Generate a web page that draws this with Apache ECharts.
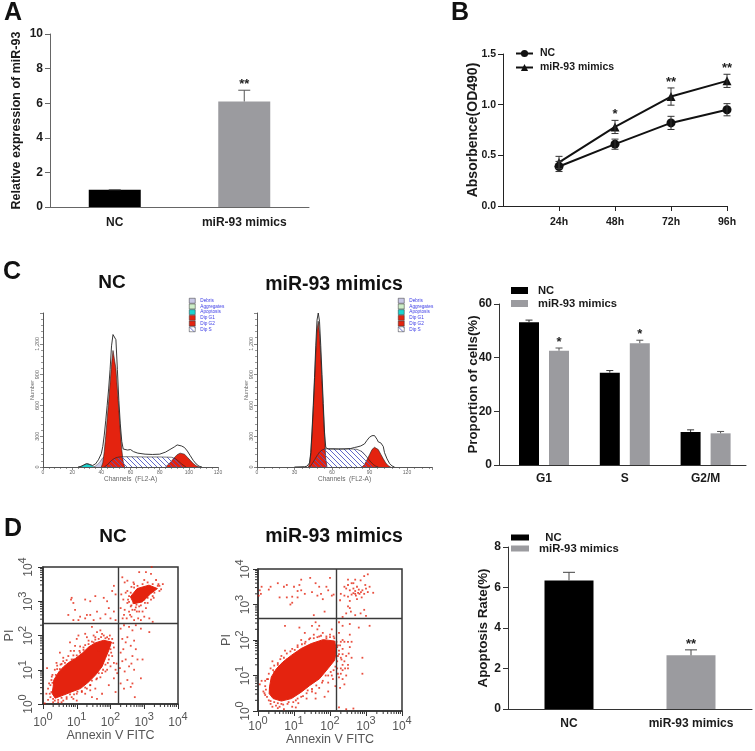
<!DOCTYPE html>
<html><head><meta charset="utf-8">
<style>html,body{margin:0;padding:0;background:#fff}#c{width:755px;height:751px}</style>
<script src="https://cdn.jsdelivr.net/npm/echarts@6/dist/echarts.min.js"></script>
</head><body><div id="c"></div>
<script>
// ---------- Panel A
const aCategories = ['NC', 'miR-93 mimics'];
const aValues = [1, 6.1];
const aErrTop = [1, 6.75];
const aSig = ['', '**'];
// ---------- Panel B
const bHours = [24, 48, 72, 96];
const bNC = [0.39, 0.61, 0.82, 0.95];
const bNCErr = [0.05, 0.05, 0.065, 0.06];
const bMimics = [0.43, 0.78, 1.08, 1.235];
const bMimicsErr = [0.06, 0.065, 0.085, 0.065];
const bSig = ['', '*', '**', '**'];
// ---------- Panel C histograms: [channel, count]
const legendNames = ['Debris', 'Aggregates', 'Apoptosis', 'Dip G1', 'Dip G2', 'Dip S'];
const ncTotal = [[24,0],[26,6],[28,20],[30,33],[32,25],[34,15],[36,30],[38,70],[40,130],[41,200],[42,310],[43,450],[44,600],[45,760],[46,950],[47,1180],[48,1290],[49,1304],[50,1240],[51,950],[52,650],[53,420],[54,250],[55,175],[56,160],[58,165],[60,170],[62,150],[65,135],[70,125],[75,122],[80,125],[84,145],[87,170],[90,195],[92,215],[93,222],[95,205],[97,190],[99,155],[101,110],[103,65],[105,30],[107,8],[109,0]];
const ncG1 = [[40,0],[41,40],[42,150],[43,300],[44,470],[45,640],[46,820],[47,1000],[48,1135],[49,1135],[50,960],[51,760],[52,560],[53,350],[54,170],[55,50],[56,0]];
const ncG2 = [[84,0],[86,25],[88,55],[90,90],[92,120],[94,135],[95,137],[97,125],[99,95],[101,65],[103,35],[105,12],[107,0]];
const ncS = [[42,0],[44,20],[46,50],[48,75],[50,90],[52,97],[55,100],[60,100],[70,98],[80,98],[88,95],[91,80],[93,55],[95,30],[97,10],[98,0]];
const ncDebris = [[35,0],[37,20],[39,50],[41,90],[43,100],[45,70],[47,30],[49,0]];
const ncApoptosis = [[25,0],[27,10],[29,28],[30,33],[31,30],[33,15],[35,3],[36,0]];
const mTotal = [[30,0],[38,3],[40,8],[42,40],[43,140],[44,350],[45,600],[46,870],[47,1180],[48,1430],[49,1500],[50,1420],[51,1180],[52,900],[53,620],[54,340],[55,190],[57,175],[60,176],[65,175],[70,176],[75,180],[78,190],[80,195],[83,205],[86,225],[88,260],[90,290],[92,305],[94,306],[96,270],[97,245],[99,235],[101,200],[102,140],[104,80],[106,35],[108,10],[110,0]];
const mG1 = [[41,0],[42,30],[43,120],[44,320],[45,560],[46,820],[47,1100],[48,1330],[49,1420],[50,1300],[51,1080],[52,820],[53,560],[54,300],[55,80],[56,0]];
const mG2 = [[84,0],[86,25],[88,70],[90,120],[92,170],[94,192],[95,196],[97,170],[99,125],[101,80],[103,40],[105,12],[107,0]];
const mS = [[42,0],[44,30],[46,70],[48,110],[50,145],[52,165],[54,175],[57,178],[65,176],[75,176],[80,172],[84,150],[87,110],[89,80],[91,50],[93,25],[95,8],[97,0]];
// ---------- Panel C bars
const cCategories = ['G1', 'S', 'G2/M'];
const cNC = [53.2, 34.4, 12.3];
const cNCTop = [54, 35.2, 13.1];
const cMimics = [42.6, 45.4, 11.8];
const cMimicsTop = [43.6, 46.5, 12.5];
const cMimicsSig = ['*', '*', ''];
// ---------- Panel D flow cytometry (log10 units)
const dNCMass = [[0.30,0.50],[0.32,0.70],[0.47,0.94],[0.61,1.09],[0.76,1.21],[0.96,1.33],[1.16,1.48],[1.36,1.67],[1.56,1.79],[1.80,1.86],[2.03,1.81],[1.95,1.57],[1.85,1.33],[1.75,1.09],[1.55,0.84],[1.36,0.65],[1.11,0.45],[0.86,0.36],[0.61,0.26],[0.36,0.17],[0.27,0.31]];
const dNCCluster = [[2.59,3.13],[2.79,3.37],[3.14,3.47],[3.39,3.37],[3.19,3.22],[2.94,2.98],[2.69,2.93]];
const dNCPoints = [[2.35,3.7],[2.42,3.55],[2.5,3.6],[2.62,3.42],[2.7,3.5],[2.85,3.85],[3.05,3.85],[3.2,3.8],[3.22,4.0],[3.35,3.62],[3.42,3.5],[3.45,3.45],[3.55,3.5],[3.5,3.35],[2.32,3.2],[2.38,3.05],[2.45,3.25],[2.5,2.95],[2.55,3.15],[2.6,2.85],[2.72,2.75],[2.78,2.7],[2.85,2.85],[2.95,2.7],[3.05,2.8],[3.1,2.95],[3.2,3.05],[3.28,3.1],[2.4,2.6],[2.48,2.5],[2.55,2.7],[2.62,2.55],[2.7,2.45],[2.82,2.5],[2.9,2.45],[3.0,2.55],[3.15,2.5],[3.25,2.4],[2.3,2.8],[2.36,2.5],[2.42,2.75],[2.68,2.95],[2.88,3.1],[3.0,3.05],[2.58,2.6],[2.77,2.9],
[0.83,3.05],[0.85,3.1],[0.9,2.95],[1.25,3.05],[1.4,3.0],[1.55,3.15],[1.8,3.1],[1.9,3.0],[2.05,3.3],[2.1,3.45],[2.15,3.2],[1.95,2.8],[2.1,2.7],[1.6,2.7],[1.4,2.6],[0.95,2.75],[1.1,2.55],[1.25,2.5],[1.3,2.6],[0.75,2.6],[0.9,2.45],[1.5,2.45],[1.7,2.5],[2.0,2.5],[2.15,2.45],[1.85,2.62],[1.05,2.45],
[2.3,2.2],[2.4,2.3],[2.55,2.25],[2.65,2.15],[2.75,2.3],[2.9,2.2],[3.15,2.1],[2.35,1.9],[2.45,1.8],[2.5,1.95],[2.6,1.7],[2.7,1.85],[2.75,1.6],[2.8,1.3],[2.65,1.4],[2.55,1.1],[2.45,1.3],[2.35,1.25],[2.3,1.5],[2.42,0.95],[2.5,0.7],[2.6,0.5],[2.65,0.6],[2.7,1.0],[2.9,0.75],[2.95,1.3],[2.3,0.6],[2.4,0.45],[2.72,0.2],[2.28,1.05],[2.38,1.6],[2.62,1.18],
[0.15,0.45],[0.2,0.3],[0.25,0.7],[0.3,0.15],[0.18,0.6],[0.28,0.85],[0.12,1.05],[0.35,1.0],[0.52,1.15],[0.5,1.5],[0.6,1.25],[0.75,1.4],[0.8,1.8],[0.95,1.7],[1.0,1.9],[1.05,2.0],[0.92,1.55],[1.2,1.65],[1.25,2.05],[1.35,1.85],[1.5,1.8],[1.55,1.95],[1.6,2.1],[1.75,2.05],[1.9,1.95],[1.98,2.0],[2.05,1.9],[1.45,2.25],[1.7,2.15],[1.85,1.8],[2.0,1.6],[2.05,1.4],[2.1,1.2],[2.15,1.0],[2.18,1.18],[2.0,1.1],[1.85,0.95],[1.75,0.9],[1.6,0.75],[1.4,0.55],[1.55,0.45],[1.3,0.45],[1.15,0.35],[1.0,0.3],[0.85,0.2],[0.6,0.1],[0.45,0.05],[0.3,0.05],[0.7,0.15],[1.0,0.1],[1.45,0.2],[1.75,0.3],[1.95,0.55],[2.1,0.75],[2.15,0.35],[1.6,0.15],[0.05,0.02],[0.4,1.2],[0.65,1.05],[0.9,1.3],[1.95,1.3],[2.2,0.9],[1.65,1.55],[1.1,1.5]];
const dNCFringe = [[0.22,0.55],[0.25,0.35],[0.28,0.62],[0.26,0.8],[0.38,0.85],[0.42,1.02],[0.5,1.02],[0.55,1.17],[0.65,1.2],[0.7,1.28],[0.85,1.3],[0.9,1.42],[1.0,1.42],[1.08,1.55],[1.2,1.58],[1.25,1.72],[1.35,1.75],[1.45,1.82],[1.55,1.88],[1.65,1.9],[1.72,1.95],[1.85,1.92],[1.95,1.9],[2.08,1.78],[2.1,1.65],[2.02,1.5],[1.95,1.42],[1.92,1.2],[1.85,1.15],[1.78,1.0],[1.65,0.9],[1.58,0.72],[1.45,0.68],[1.4,0.55],[1.25,0.48],[1.15,0.38],[1.02,0.36],[0.92,0.28],[0.8,0.28],[0.7,0.2],[0.55,0.18],[0.45,0.12],[0.35,0.1],[0.22,0.2],[0.15,0.12],[0.1,0.3],[0.55,0.05],[0.9,0.15],[1.25,0.3],[1.4,0.4],[1.7,0.78],[1.9,1.0],[0.42,1.12],[0.6,1.35],[0.82,1.55],[1.1,1.68],[1.3,1.95],[1.5,2.0],[1.8,2.0],
[2.52,3.05],[2.6,3.25],[2.7,3.4],[2.8,3.45],[2.95,3.5],[3.1,3.55],[3.25,3.5],[3.4,3.45],[3.45,3.3],[3.3,3.25],[3.25,3.15],[3.1,3.1],[3.02,2.95],[2.9,2.88],[2.75,2.82],[2.62,2.88],[2.55,2.98],[2.65,2.75],[2.85,2.7],[2.5,3.3],[2.68,3.55],[3.0,3.62]];
const dMMass = [[0.32,0.68],[0.37,0.96],[0.51,1.19],[0.69,1.38],[0.93,1.57],[1.20,1.76],[1.48,1.90],[1.81,2.01],[2.13,1.97],[2.18,1.71],[2.13,1.43],[1.94,1.19],[1.71,0.91],[1.44,0.72],[1.20,0.53],[0.93,0.35],[0.65,0.28],[0.42,0.35],[0.31,0.49]];
const dMPoints = [[2.4,3.5],[2.45,3.45],[2.5,3.55],[2.55,3.4],[2.6,3.6],[2.65,3.45],[2.7,3.38],[2.75,3.5],[2.8,3.42],[2.82,3.3],[2.7,3.3],[2.65,3.32],[2.6,3.28],[2.72,3.25],[2.78,3.33],[2.86,3.35],[2.9,3.4],[2.95,3.3],[3.0,3.45],[3.05,3.35],[3.1,3.5],[3.2,3.33],[2.88,3.2],[2.75,3.15],[2.5,3.22],[2.4,3.25],[2.3,3.3],[2.28,3.12],[2.55,3.1],[2.98,3.55],[3.05,3.85],[2.95,3.8],[2.85,3.68],[2.7,3.7],[2.5,3.7],[2.5,2.95],[2.55,2.9],[2.58,2.8],[2.45,2.75],[2.7,2.7],[2.85,2.75],[2.95,2.85],[3.0,2.68],[2.35,2.65],[2.65,3.6],
[0.05,3.4],[0.08,3.3],[0.1,3.5],[0.02,3.25],[0.3,3.42],[0.35,3.5],[0.55,3.6],[0.72,3.5],[0.8,3.55],[1.0,3.5],[1.15,3.55],[1.2,3.7],[1.45,3.75],[1.6,3.6],[1.7,3.5],[1.9,3.5],[2.0,3.75],[1.95,3.4],[1.75,3.3],[1.5,3.35],[1.3,3.3],[1.1,3.2],[0.95,3.22],[0.8,3.2],[0.9,3.0],[0.95,3.05],[1.2,3.4],[1.65,3.25],[2.05,3.25],[2.1,3.28],[1.8,3.15],[1.55,2.7],[1.85,2.8],[1.1,3.38],[0.6,3.2],
[2.25,2.5],[2.35,2.4],[2.55,2.45],[2.8,2.35],[3.1,2.4],[2.25,2.2],[2.35,2.0],[2.55,2.15],[2.3,1.95],[2.4,1.95],[2.5,1.95],[2.6,1.95],[2.25,1.7],[2.35,1.6],[2.45,1.55],[2.55,1.8],[2.6,1.5],[2.5,1.3],[2.35,1.3],[2.42,1.2],[2.3,1.05],[2.45,1.0],[2.25,0.95],[2.32,1.45],[2.2,1.2],[2.4,0.75],[2.35,0.9],[2.28,0.65],[2.9,1.05],[2.9,1.5],[2.2,1.8],[2.25,0.1],[2.45,0.05],[2.65,0.07],[2.22,1.55],[2.52,1.62],
[0.1,0.85],[0.05,0.75],[0.15,0.55],[0.2,0.7],[0.25,0.9],[0.2,0.45],[0.3,0.3],[0.35,0.2],[0.5,0.15],[0.65,0.2],[0.72,0.05],[0.85,0.25],[1.05,0.3],[1.2,0.4],[1.05,0.1],[1.35,0.5],[1.5,0.55],[1.7,0.65],[1.6,0.35],[1.8,0.85],[1.95,1.0],[2.08,0.9],[2.1,1.15],[2.15,0.7],[1.95,0.55],[1.85,0.4],[0.35,1.2],[0.45,1.1],[0.55,1.35],[0.65,1.55],[0.8,1.45],[0.95,1.75],[0.75,1.7],[1.1,1.8],[1.2,2.0],[1.3,1.9],[1.45,2.05],[1.55,2.15],[1.7,2.1],[1.8,2.2],[1.9,2.05],[2.0,2.15],[2.1,2.1],[1.65,2.3],[1.5,2.4],[1.3,2.2],[0.75,2.4],[1.15,2.35],[1.6,2.5],[1.7,2.4],[0.55,0.08],[0.4,1.4],[2.05,2.3]];
const dMFringe = [[0.22,0.6],[0.2,0.85],[0.28,0.9],[0.3,1.05],[0.42,1.15],[0.45,1.28],[0.55,1.3],[0.62,1.46],[0.72,1.5],[0.8,1.62],[0.9,1.68],[1.02,1.72],[1.1,1.85],[1.22,1.88],[1.32,1.95],[1.42,2.02],[1.55,2.05],[1.65,2.08],[1.75,2.12],[1.9,2.1],[2.0,2.08],[2.12,2.05],[2.22,1.85],[2.25,1.6],[2.2,1.4],[2.15,1.25],[2.02,1.1],[1.88,1.0],[1.78,0.8],[1.62,0.72],[1.5,0.62],[1.38,0.58],[1.25,0.42],[1.1,0.35],[0.98,0.25],[0.82,0.2],[0.7,0.18],[0.55,0.22],[0.45,0.25],[0.35,0.28],[0.25,0.4],[0.18,0.5],[0.4,0.12],[0.6,0.12],[0.95,0.12],[1.12,0.22],[1.35,0.35],[1.6,0.5],[1.95,0.8],[2.05,1.0],[2.22,1.05],[2.3,1.5],[2.28,1.85],[2.35,1.75],[2.4,1.4],[2.5,1.2],[2.3,1.2],[2.35,1.15],[2.18,1.95]];
const dNCGates = [2.23, 2.36];
const dMGates = [2.18, 2.6];
const logMultipliers = [2,3,4,5,6,7,8,9];
// ---------- Panel D bars
const dCategories = ['NC', 'miR-93 mimics'];
const dValues = [6.35, 2.65];
const dErrTop = [6.75, 2.92];
const dSig = ['', '**'];

const FF = '"Liberation Sans", Arial, sans-serif';
const BLACK = '#000', GRAY = '#9b9b9f', RED = '#e4230f';
const chart = echarts.init(document.getElementById('c'), null, {renderer:'canvas'});

function hatch(){
  const c = document.createElement('canvas'); c.width = 5; c.height = 5;
  const g = c.getContext('2d'); g.strokeStyle = '#4f58c4'; g.lineWidth = 0.9;
  g.beginPath(); g.moveTo(-1,-1); g.lineTo(6,6); g.moveTo(-1,4); g.lineTo(1,6); g.moveTo(4,-1); g.lineTo(6,1); g.stroke();
  return {image:c, repeat:'repeat'};
}
const HATCH = hatch();

function errSeries(g, xs, tops, bots, sig, dx, cap, color, both){
  return {type:'custom', xAxisIndex:g, yAxisIndex:g, z:5, clip:false, silent:true,
    data: xs.map((x,i)=>[x, tops[i], bots[i]]), encode:{x:0,y:1},
    renderItem(p, api){
      const a = api.coord([api.value(0), api.value(1)]), b = api.coord([api.value(0), api.value(2)]);
      const x = a[0] + dx, st = {stroke:color, lineWidth:1};
      const ch = [
        {type:'line', shape:{x1:x,y1:a[1],x2:x,y2:b[1]}, style:st},
        {type:'line', shape:{x1:x-cap,y1:a[1],x2:x+cap,y2:a[1]}, style:st}];
      if (both) ch.push({type:'line', shape:{x1:x-cap,y1:b[1],x2:x+cap,y2:b[1]}, style:st});
      const s = sig[p.dataIndex];
      if (s) ch.push({type:'text', style:{text:s, x:x, y:a[1]-12, font:'bold 13px '+FF, fill:'#222', textAlign:'center', textVerticalAlign:'top'}});
      return {type:'group', children:ch};
    }};
}

function barAxes(g, cats, max, interval, lineColor, yName, nameGap, yFont, nameFont, margin){
  return {
    x:{type:'category', gridIndex:g, data:cats,
      axisLine:{lineStyle:{color:lineColor,width:1}}, axisTick:{alignWithLabel:true,length:5,lineStyle:{color:lineColor}},
      axisLabel:{color:'#1a1a1a',fontFamily:FF,fontWeight:'bold',fontSize:12,margin:margin,interval:0}, splitLine:{show:false}},
    y:{type:'value', gridIndex:g, min:0, max, interval,
      axisLine:{show:true,lineStyle:{color:lineColor,width:1}}, axisTick:{show:true,length:5,lineStyle:{color:lineColor}},
      axisLabel:{color:'#1a1a1a',fontFamily:FF,fontWeight:'bold',fontSize:yFont,margin:7}, splitLine:{show:false},
      name:yName, nameLocation:'middle', nameGap, nameRotate:90, nameMoveOverlap:false,
      nameTextStyle:{color:'#1a1a1a',fontFamily:FF,fontWeight:'bold',fontSize:nameFont}}
  };
}
function histAxes(g, xMax, xInt){
  const c = '#555';
  return {
    x:{type:'value', gridIndex:g, min:0, max:xMax, interval:xInt,
      axisLine:{lineStyle:{color:c,width:1}}, axisTick:{length:3,lineStyle:{color:c,width:.7}},
      minorTick:{show:true,splitNumber:5,length:2,lineStyle:{color:c,width:.6}},
      axisLabel:{color:'#666',fontFamily:FF,fontSize:5,margin:3,showMaxLabel:xMax===120},
      splitLine:{show:false}, minorSplitLine:{show:false},
      name:'Channels  (FL2-A)', nameLocation:'middle', nameGap:8.5, nameMoveOverlap:false,
      nameTextStyle:{color:'#666',fontFamily:FF,fontSize:6.5}},
    y:{type:'value', gridIndex:g, min:0, max:1500, interval:300,
      axisLine:{show:true,lineStyle:{color:c,width:1}}, axisTick:{show:true,length:3,lineStyle:{color:c,width:.7}},
      minorTick:{show:true,splitNumber:5,length:2,lineStyle:{color:c,width:.6}},
      axisLabel:{color:'#666',fontFamily:FF,fontSize:5.5,margin:3,rotate:90,showMaxLabel:false},
      splitLine:{show:false}, minorSplitLine:{show:false},
      name:'Number', nameLocation:'middle', nameGap:8, nameRotate:90, nameMoveOverlap:false,
      nameTextStyle:{color:'#666',fontFamily:FF,fontSize:5.6}}
  };
}
function histSeries(p, g, total, G1, G2, S, debris, apo){
  const area = (name, data, color, z, lw)=>({type:'line', name:p+'|'+name, xAxisIndex:g, yAxisIndex:g, data, showSymbol:false, z, silent:true,
    itemStyle:{color}, lineStyle:{color:'#222',width:lw}, areaStyle:{color,opacity:1}});
  return [
    area('Debris', debris, '#c8c8e6', 2, .4),
    area('Aggregates', [], '#cdeec8', 2, .4),
    area('Apoptosis', apo, '#1bd3cf', 2, .4),
    area('Dip G1', G1, RED, 3, .6),
    area('Dip G2', G2, RED, 3, .6),
    area('Dip S', S, HATCH, 4, .6),
    {type:'line', name:p+'|total', xAxisIndex:g, yAxisIndex:g, data:total, showSymbol:false, z:6, silent:true, lineStyle:{color:'#222',width:.9}}
  ];
}
function logTicks(g, axis){
  const d = [];
  for (let e=0;e<4;e++) logMultipliers.forEach(m=>d.push([e+Math.log10(m)]));
  return {type:'custom', xAxisIndex:g, yAxisIndex:g, z:3, silent:true, clip:false, data:d, encode:axis==='x'?{x:0}:{y:0},
    renderItem(p, api){
      const v = api.value(0);
      const st = {stroke:'#333', lineWidth:1};
      if (axis==='x'){ const c = api.coord([v,0]); return {type:'line',shape:{x1:c[0],y1:c[1],x2:c[0],y2:c[1]+3},style:st}; }
      const c = api.coord([0,v]); return {type:'line',shape:{x1:c[0],y1:c[1],x2:c[0]-3,y2:c[1]},style:st};
    }};
}
function polySeries(g, poly){
  return {type:'custom', xAxisIndex:g, yAxisIndex:g, z:2, silent:true, data:poly, encode:{x:0,y:1},
    renderItem(p, api){
      if (p.dataIndex !== 0) return;
      return {type:'polygon', shape:{points:poly.map(v=>api.coord(v))}, style:{fill:RED, stroke:RED, lineWidth:1}};
    }};
}
function flowAxes(g, nameGapX, nameGapY, marginY, marginX){
  const lab = v => '{b|10}{s|'+v+'}';
  const rich = {b:{fontSize:12,color:'#555',fontFamily:FF,verticalAlign:'bottom',lineHeight:18},s:{fontSize:11,color:'#555',fontFamily:FF,verticalAlign:'top',lineHeight:18}};
  return {
    x:{type:'value', gridIndex:g, min:0, max:4, interval:1,
      axisLine:{show:true,lineStyle:{color:'#333',width:1.5}}, axisTick:{length:5,lineStyle:{color:'#333',width:1}},
      axisLabel:{formatter:lab, rich, margin:marginX, hideOverlap:false}, splitLine:{show:false},
      name:'Annexin V FITC', nameLocation:'middle', nameGap:nameGapX, nameMoveOverlap:false, nameTextStyle:{color:'#555',fontFamily:FF,fontSize:12.5}},
    y:{type:'value', gridIndex:g, min:0, max:4, interval:1,
      axisLine:{show:true,lineStyle:{color:'#333',width:1.5}}, axisTick:{show:true,length:5,lineStyle:{color:'#333',width:1}},
      axisLabel:{formatter:lab, rich, margin:marginY, rotate:90, hideOverlap:false}, splitLine:{show:false},
      name:'PI', nameLocation:'middle', nameGap:nameGapY, nameRotate:90, nameMoveOverlap:false, nameTextStyle:{color:'#555',fontFamily:FF,fontSize:12.5}}
  };
}
function flowSeries(g, points, gates, polys){
  return [
    ...polys.map(p=>polySeries(g,p)),
    {type:'scatter', xAxisIndex:g, yAxisIndex:g, data:points, symbol:'rect', symbolSize:1.8, z:2, silent:true, itemStyle:{color:RED},
      markLine:{silent:true, symbol:'none', label:{show:false}, animation:false, lineStyle:{color:'#3a3a3a',width:1.4,type:'solid'},
        data:[{xAxis:gates[0]},{yAxis:gates[1]}]}},
    logTicks(g,'x'), logTicks(g,'y')
  ];
}
function legendCfg(names, left, top, fs, w, h, gap, pad){
  return {orient:'vertical', left, top, itemWidth:w, itemHeight:h, itemGap:gap, padding:0, selectedMode:false,
    data:names, formatter:n=>n.split('|')[1], textStyle:{color:'#1a1a1a',fontFamily:FF,fontWeight:'bold',fontSize:fs,padding:[0,0,0,pad]}};
}
const rectItems = names => names.map(name=>({name,icon:'rect'}));
const frame = {show:true, borderColor:'#333', borderWidth:1.5, backgroundColor:'transparent'};
const grids = [
  {left:50,top:34,width:259,height:173},
  {left:503,top:54,width:224,height:152},
  {left:43,top:313,width:175,height:154},
  {left:257,top:313,width:175,height:154},
  {left:503.6,top:304,width:242.4,height:161},
  {left:43,top:567,width:135,height:137,...frame},
  {left:258,top:569,width:144,height:142,...frame},
  {left:508,top:547,width:244,height:162}
];
const aA = barAxes(0, aCategories, 10, 2, '#666', 'Relative expression of miR-93', 27, 12, 12.5, 10);
const hN = histAxes(2,120,20), hM = histAxes(3,140,30);
const cA = barAxes(4, cCategories, 60, 20, '#333', 'Proportion of cells(%)', 19, 12, 13.3, 8);
cA.y.offset = 4.6;
const fN = flowAxes(5,25,27,8,7), fM = flowAxes(6,22,25,6,4);
const dA = barAxes(7, dCategories, 8, 2, '#333', 'Apoptosis Rate(%)', 18, 12, 13.4, 9);
const bX = {type:'value', gridIndex:1, min:0, max:96, interval:24,
  axisLine:{lineStyle:{color:'#222',width:1}},
  axisTick:{length:5,lineStyle:{color:'#222'},customValues:bHours},
  axisLabel:{color:'#1a1a1a',fontFamily:FF,fontWeight:'bold',fontSize:10.5,margin:11,customValues:bHours,formatter:v=>v+'h'}, splitLine:{show:false}};
const bY = {type:'value', gridIndex:1, min:0, max:1.5, interval:0.5,
  axisLine:{show:true,lineStyle:{color:'#222',width:1}}, axisTick:{show:true,length:5,lineStyle:{color:'#222'}},
  axisLabel:{color:'#1a1a1a',fontFamily:FF,fontWeight:'bold',fontSize:10.5,margin:7,formatter:v=>v.toFixed(1)}, splitLine:{show:false},
  name:'Absorbence(OD490)', nameLocation:'middle', nameGap:23, nameRotate:90, nameMoveOverlap:false,
  nameTextStyle:{color:'#1a1a1a',fontFamily:FF,fontWeight:'bold',fontSize:14}};

const txt = (text,x,y,size,align)=>({type:'text',x,y,silent:true,style:{text,fill:'#111',font:'bold '+size+'px '+FF,textAlign:align||'center',textVerticalAlign:'middle'}});

chart.setOption({
  animation:false, backgroundColor:'#fff',
  grid:grids.map(g=>({...g,containLabel:false})),
  xAxis:[aA.x,bX,hN.x,hM.x,cA.x,fN.x,fM.x,dA.x],
  yAxis:[aA.y,bY,hN.y,hM.y,cA.y,fN.y,fM.y,dA.y],
  legend:[
    legendCfg(['B|NC','B|miR-93 mimics'],515,48,10.5,17,9,3,2),
    legendCfg(rectItems(['C|NC','C|miR-93 mimics']),511,285,11.2,17,7,2,5),
    legendCfg(rectItems(['D|  NC','D|miR-93 mimics']),511,532,11.3,18,6,0,5),
    {...legendCfg(legendNames.map(n=>({name:'N|'+n,icon:'rect',itemStyle:{borderColor:'#333',borderWidth:.5}})),189,298,4.7,6,5,.2,0),textStyle:{color:'#3a3ae6',fontFamily:FF,fontSize:4.7}},
    {...legendCfg(legendNames.map(n=>({name:'M|'+n,icon:'rect',itemStyle:{borderColor:'#333',borderWidth:.5}})),398,298,4.7,6,5,.2,0),textStyle:{color:'#3a3ae6',fontFamily:FF,fontSize:4.7}}
  ],
  graphic:[
    txt('A',13,13,25), txt('B',460,13,25), txt('C',12,272,25), txt('D',13,529,25),
    txt('NC',112,283,19), txt('miR-93 mimics',334,285,19.5),
    txt('NC',113,537,19), txt('miR-93 mimics',334,537,19.5),
    {type:'line',silent:true,shape:{x1:499,y1:465.5,x2:504,y2:465.5},style:{stroke:'#333',lineWidth:1}}
  ],
  series:[
    {type:'bar',xAxisIndex:0,yAxisIndex:0,data:aValues.map((v,i)=>({value:v,itemStyle:{color:i?GRAY:BLACK}})),barWidth:52,silent:true},
    errSeries(0,[0,1],aErrTop,aValues,aSig,0,6,'#555'),
    {type:'line',name:'B|NC',xAxisIndex:1,yAxisIndex:1,data:bHours.map((h,i)=>[h,bNC[i]]),symbol:'circle',symbolSize:9,lineStyle:{color:'#111',width:2},itemStyle:{color:'#111'},z:4,silent:true},
    {type:'line',name:'B|miR-93 mimics',xAxisIndex:1,yAxisIndex:1,data:bHours.map((h,i)=>[h,bMimics[i]]),symbol:'triangle',symbolSize:9,lineStyle:{color:'#111',width:2},itemStyle:{color:'#111'},z:4,silent:true},
    errSeries(1,bHours,bNC.map((v,i)=>v+bNCErr[i]),bNC.map((v,i)=>v-bNCErr[i]),['','','',''],0,3.5,'#333',true),
    errSeries(1,bHours,bMimics.map((v,i)=>v+bMimicsErr[i]),bMimics.map((v,i)=>v-bMimicsErr[i]),bSig,0,3.5,'#333',true),
    ...histSeries('N',2,ncTotal,ncG1,ncG2,ncS,ncDebris,ncApoptosis),
    ...histSeries('M',3,mTotal,mG1,mG2,mS,[],[]),
    {type:'bar',name:'C|NC',xAxisIndex:4,yAxisIndex:4,data:cNC,barWidth:20,barGap:'50%',itemStyle:{color:BLACK},silent:true},
    {type:'bar',name:'C|miR-93 mimics',xAxisIndex:4,yAxisIndex:4,data:cMimics,barWidth:20,barGap:'50%',itemStyle:{color:GRAY},silent:true},
    errSeries(4,[0,1,2],cNCTop,cNC,['','',''],-15,3.5,'#333'),
    errSeries(4,[0,1,2],cMimicsTop,cMimics,cMimicsSig,15,3.5,'#555'),
    ...flowSeries(5,dNCPoints.concat(dNCFringe),dNCGates,[dNCMass,dNCCluster]),
    ...flowSeries(6,dMPoints.concat(dMFringe),dMGates,[dMMass]),
    {type:'bar',name:'D|  NC',xAxisIndex:7,yAxisIndex:7,data:[dValues[0],null],barWidth:49,barGap:'-100%',itemStyle:{color:BLACK},silent:true},
    {type:'bar',name:'D|miR-93 mimics',xAxisIndex:7,yAxisIndex:7,data:[null,dValues[1]],barWidth:49,barGap:'-100%',itemStyle:{color:GRAY},silent:true},
    errSeries(7,[0,1],dErrTop,dValues,dSig,0,6,'#444')
  ]
});
</script></body></html>
